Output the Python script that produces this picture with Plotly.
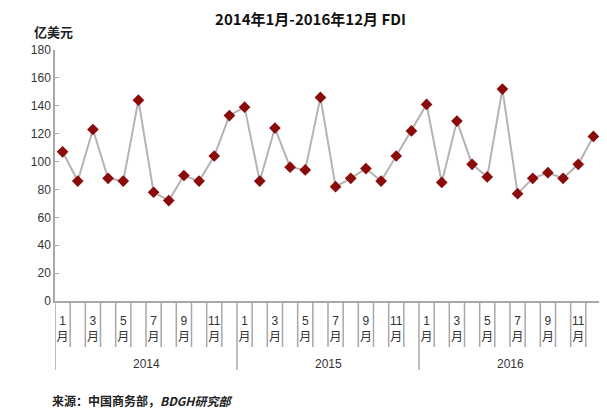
import plotly.graph_objects as go

years = ["2014", "2015", "2016"]
months = list(range(1, 13))
fdi = [107, 86, 123, 88, 86, 144, 78, 72, 90, 86, 104, 133,
       139, 86, 124, 96, 94, 146, 82, 88, 95, 86, 104, 122,
       141, 85, 129, 98, 89, 152, 77, 88, 92, 88, 98, 118]

categories = [f"{y}年{m}月" for y in years for m in months]
tick_vals = [c for c, m in zip(categories, [m for _ in years for m in months]) if m % 2 == 1]
tick_text = [f"{m}<br>月" for _ in years for m in months if m % 2 == 1]

FONT = "Liberation Sans, Noto Sans CJK SC, sans-serif"

fig = go.Figure()
fig.add_trace(go.Scatter(
    x=categories, y=fdi, mode="lines+markers",
    line=dict(color="#b4b4b4", width=2),
    marker=dict(symbol="diamond", size=9, color="#8b0a0a",
                line=dict(color="#8b0a0a", width=0)),
    showlegend=False, cliponaxis=False,
))

H = 251.0
W = 546.0
shapes = []
n = len(categories)
for i in range(n + 1):
    is_year = (i % 12 == 0)
    depth = (69 if is_year else 46) / H
    shapes.append(dict(type="line", xref="x", yref="paper",
                       x0=i - 0.5, x1=i - 0.5, y0=0, y1=-depth,
                       line=dict(color="#a8a8a8", width=1.5)))

annotations = []
for k, y in enumerate(years):
    annotations.append(dict(x=k * 12 + 5.5, xref="x", y=-(63 / H), yref="paper",
                            text=y, showarrow=False, yanchor="middle",
                            font=dict(family=FONT, size=12, color="#333333")))
annotations.append(dict(x=-(23 / W), xref="paper", y=1 + 19 / H, yref="paper",
                        text="<b>亿美元</b>", showarrow=False, xanchor="left",
                        yanchor="middle",
                        font=dict(family="Noto Sans CJK SC", size=13, color="#222222")))
annotations.append(dict(x=-(5 / W), xref="paper", y=-(99 / H), yref="paper",
                        text="<b>来源：中国商务部，<i>BDGH研究部</i></b>", showarrow=False,
                        xanchor="left", yanchor="middle",
                        font=dict(family="Noto Sans CJK SC", size=12, color="#222222")))

fig.update_layout(
    width=599, height=402,
    margin=dict(l=47, r=6, t=42, b=109, autoexpand=False),
    paper_bgcolor="white", plot_bgcolor="white",
    title=dict(text="<b>2014年1月-2016年12月 FDI</b>", x=0.505, xanchor="center",
               y=1 - 12 / 402, yanchor="middle",
               font=dict(family="Noto Sans CJK SC", size=15, color="#111111")),
    shapes=shapes, annotations=annotations,
    xaxis=dict(type="category", categoryorder="array", categoryarray=categories,
               range=[-0.5, n - 0.5], tickmode="array", tickvals=tick_vals,
               ticktext=tick_text, showgrid=False, ticks="", showline=True,
               linecolor="#a8a8a8", linewidth=1.5, zeroline=False, automargin=False,
               ticklabelstandoff=8,
               tickfont=dict(family=FONT, size=12, color="#333333")),
    yaxis=dict(range=[0, 180], dtick=20, showgrid=False, showline=True,
               linecolor="#a8a8a8", linewidth=1.5, ticks="inside", ticklen=4,
               tickcolor="#a8a8a8", zeroline=False, automargin=False,
               tickfont=dict(family=FONT, size=12, color="#333333")),
)

fig.write_html("out.html")
